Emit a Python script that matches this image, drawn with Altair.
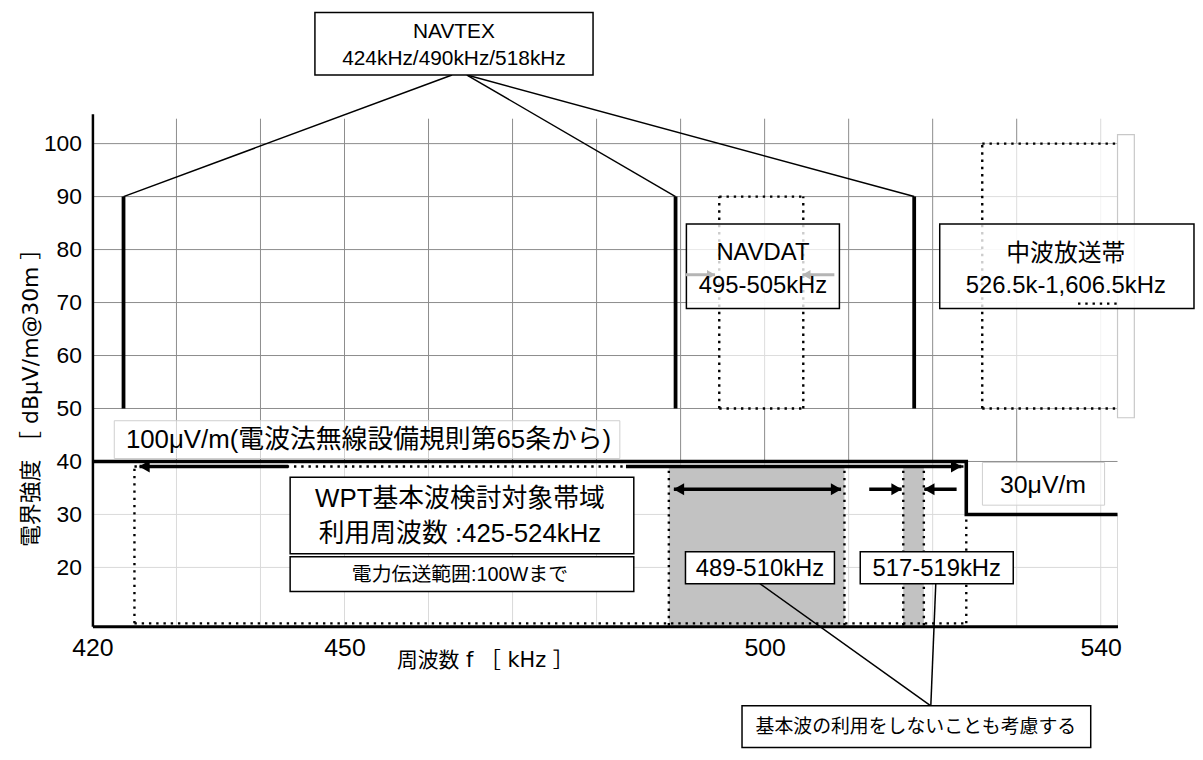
import altair as alt
import pandas as pd

# ---------------- values (kHz / dBuV/m) ----------------
navtex_freq = [423.7, 489.4, 517.8]
navtex_level = [50, 90]
limit_freq = [420, 524, 524, 542]
limit_level = [40, 40, 30, 30]
navdat_band = [494.6, 504.6]
navdat_level = [50, 90]
mw_band = [525.9, 542]
mw_level = [50, 100]
wpt_band = [425, 524]
wpt_level = [9.44, 39.06]
excl_lo = [488.6, 516.5]
excl_hi = [509.5, 518.95]
excl_level = [9.06, 39.06]
x_ticks = [420, 450, 500, 540]
y_ticks = [20, 30, 40, 50, 60, 70, 80, 90, 100]
grid_x = [430, 440, 450, 460, 470, 480, 490, 500, 510, 520, 530]
grid_y_up = [40, 50, 60, 70, 80, 90, 100]
grid_y_low = [20, 30]

label_navtex = ["NAVTEX", "424kHz/490kHz/518kHz"]
label_navdat = ["NAVDAT", "495-505kHz"]
label_mw = ["中波放送帯", "526.5k-1,606.5kHz"]
label_limit100 = "100μV/m(電波法無線設備規則第65条から)"
label_limit30 = "30μV/m"
label_wpt = ["WPT基本波検討対象帯域", "利用周波数  :425-524kHz"]
label_power = "電力伝送範囲:100Wまで"
label_excl = ["489-510kHz", "517-519kHz"]
label_note = "基本波の利用をしないことも考慮する"
x_title = "周波数 f ［ kHz ］"
y_title = "電界強度 ［ dBμV/m@30m ］"

# ---------------- layout ----------------
X_DOM = [420, 542]
Y_DOM = [8.875, 105.625]
TOP = 104.7
FONT = "Liberation Sans, Noto Sans CJK JP, sans-serif"
TFONT = "DejaVu Sans, Noto Sans CJK JP, sans-serif"

xs = alt.Scale(domain=X_DOM, nice=False, zero=False)
ys = alt.Scale(domain=Y_DOM, nice=False, zero=False)

x_axis = alt.Axis(
    values=x_ticks, format="d", grid=False, ticks=False, domainColor="black",
    domainWidth=3, labelFont="Liberation Sans Narrow, Liberation Sans, sans-serif",
    labelFontSize=25, labelColor="black", labelPadding=9, labelFlush=False,
    labelOverlap=False, title=x_title, titleFont=TFONT, titleFontSize=21,
    titleFontWeight="normal", titleColor="black", titleX=395, titleY=34,
    titleAlign="center", titleBaseline="middle", zindex=3)
y_axis = alt.Axis(
    values=y_ticks, grid=False, ticks=False, domainColor="black",
    domainWidth=2.5, labelFont="Liberation Sans, sans-serif", labelFontSize=23,
    labelColor="black", labelPadding=11, labelOverlap=False, title=y_title,
    titleFont=TFONT, titleFontSize=22, titleFontWeight="normal",
    titleColor="black", titleX=-62, titleY=280, titleAngle=270,
    titleAlign="center", titleBaseline="middle", zindex=3)


def X(f="x"):
    return alt.X(f"{f}:Q", scale=xs, axis=x_axis, title=x_title)


def Y(f="y"):
    return alt.Y(f"{f}:Q", scale=ys, axis=y_axis, title=y_title)


def segs(rows):
    return pd.DataFrame(rows, columns=["x", "y", "x2", "y2"])


def rule_layer(rows, **kw):
    return alt.Chart(segs(rows)).mark_rule(**kw).encode(
        x=X(), y=Y(), x2="x2:Q", y2="y2:Q")


def box_layer(rows, **kw):
    df = pd.DataFrame(rows, columns=["x", "x2", "y", "y2"])
    return alt.Chart(df).mark_rect(**kw).encode(
        x=X(), x2="x2:Q", y=Y(), y2="y2:Q")


def text_layer(rows, size, font=FONT):
    df = pd.DataFrame(rows, columns=["x", "y", "text"])
    return alt.Chart(df).mark_text(
        fontSize=size, font=font, color="black", align="center",
        baseline="middle").encode(x=X(), y=Y(), text="text:N")


def head_layer(rows, shape, color, size, off):
    df = pd.DataFrame(rows, columns=["x", "y"])
    return alt.Chart(df).mark_point(
        shape=shape, filled=True, size=size, color=color, opacity=1,
        xOffset=off, strokeWidth=0).encode(x=X(), y=Y())


# gridlines
light_rows = ([(g, Y_DOM[0], g, 40) for g in grid_x]
              + [(540, Y_DOM[0], 540, TOP), (542, Y_DOM[0], 542, 30)]
              + [(X_DOM[0], v, X_DOM[1], v) for v in grid_y_low])
dark_rows = ([(g, 40, g, TOP) for g in grid_x]
             + [(X_DOM[0], v, X_DOM[1], v) for v in grid_y_up])

base = rule_layer(light_rows, color="#dadada", strokeWidth=1)
grid_dark = rule_layer(dark_rows, color="#8c8c8c", strokeWidth=1)

# translucent band fills
overlay = box_layer([(navdat_band[0], navdat_band[1], navdat_level[0], navdat_level[1]),
                     (mw_band[0], mw_band[1], mw_level[0], mw_level[1])],
                    fill="white", opacity=0.7)
shaded = box_layer([(lo, hi, excl_level[0], excl_level[1]) for lo, hi in zip(excl_lo, excl_hi)],
                   fill="#c2c2c2")

# dotted outlines
n0, n1 = navdat_band
a0, a1 = navdat_level
m0, m1 = mw_band
b0, b1 = mw_level
w0, w1 = wpt_band
c0, c1 = wpt_level
dot_rows = [(n0, a0, n1, a0), (n0, a1, n1, a1), (n0, a0, n0, a1), (n1, a0, n1, a1),
            (m0, b1, m1, b1), (m0, b0, m1, b0), (m0, b0, m0, b1),
            (w0, c0, w1, c0), (w0, c1, w1, c1), (w0, c0, w0, c1), (w1, c0, w1, c1)]
for lo, hi in zip(excl_lo, excl_hi):
    dot_rows += [(lo, excl_level[0], lo, excl_level[1]), (hi, excl_level[0], hi, excl_level[1])]
dotted = rule_layer(dot_rows, color="black", strokeWidth=2.4, strokeDash=[2.4, 4.9])

edge_box = box_layer([(542, 544, 48.25, 101.7)], filled=False, stroke="#c8c8c8",
                     strokeWidth=1.2)

# regulation limit line
limit_df = pd.DataFrame({"x": limit_freq, "y": limit_level, "o": list(range(len(limit_freq)))})
limit = alt.Chart(limit_df).mark_line(color="black", strokeWidth=3.6).encode(
    x=X(), y=Y(), order="o:Q")

navtex = rule_layer([(f, navtex_level[0], f, navtex_level[1]) for f in navtex_freq],
                    color="black", strokeWidth=3.8)

arrows = rule_layer([(425.6, 39.06, 443.3, 39.06), (483.5, 39.06, 523.4, 39.06),
                     (489.2, 34.75, 509.1, 34.75), (512.45, 34.75, 516.3, 34.75),
                     (522.85, 34.75, 519.0, 34.75)],
                    color="black", strokeWidth=3.6)
heads_l = head_layer([(425.6, 39.06), (489.2, 34.75), (519.0, 34.75)],
                     "triangle-left", "black", 150, 5)
heads_r = head_layer([(523.4, 39.06), (509.1, 34.75), (516.3, 34.75)],
                     "triangle-right", "black", 150, -5)

gray_arrows = rule_layer([(490.6, 75.25, 494.1, 75.25), (508.3, 75.25, 504.5, 75.25)],
                         color="#b5b5b5", strokeWidth=3)
gheads_r = head_layer([(494.1, 75.25)], "triangle-right", "#b5b5b5", 90, -4)
gheads_l = head_layer([(504.5, 75.25)], "triangle-left", "#b5b5b5", 90, 4)

leaders = rule_layer([(462.8, 112.94, navtex_freq[0], navtex_level[1]),
                      (464.57, 112.94, navtex_freq[1], navtex_level[1]),
                      (464.57, 112.94, navtex_freq[2], navtex_level[1]),
                      (499.44, 16.94, 519.78, -6.13),
                      (520.37, 16.94, 519.78, -6.13)],
                     color="black", strokeWidth=1.5)

boxes_solid = box_layer([(446.48, 479.58, 112.94, 124.75),
                         (443.53, 484.43, 22.56, 37.0),
                         (443.53, 484.43, 15.44, 22.0),
                         (490.58, 508.31, 16.94, 22.94),
                         (511.38, 529.59, 16.94, 22.94),
                         (497.31, 538.81, -14.0, -6.13)],
                        fill="white", stroke="black", strokeWidth=1.5)
boxes_trans = box_layer([(490.69, 508.9, 68.88, 84.81),
                         (520.84, 551.1, 68.88, 84.81)],
                        fill="white", fillOpacity=0.8, stroke="black", strokeWidth=1.5)
boxes_light = box_layer([(422.6, 482.77, 40.56, 47.69),
                         (525.92, 540.46, 31.75, 39.81)],
                        fill="white", fillOpacity=0.6, stroke="#cfcfcf", strokeWidth=1)

texts = [
    text_layer([(463.03, 121.0, label_navtex[0]), (463.03, 115.94, label_navtex[1])], 21),
    text_layer([(499.8, 79.38, label_navdat[0]), (499.8, 73.19, label_navdat[1])], 24),
    text_layer([(535.85, 79.19, label_mw[0]), (535.85, 73.19, label_mw[1])], 24),
    text_layer([(452.86, 44.13, label_limit100)], 26),
    text_layer([(533.13, 35.5, label_limit30)], 25),
    text_layer([(463.74, 32.87, label_wpt[0]), (463.74, 26.31, label_wpt[1])], 26),
    text_layer([(463.74, 18.62, label_power)], 20),
    text_layer([(499.44, 19.75, label_excl[0]), (520.48, 19.75, label_excl[1])], 24),
    text_layer([(518.0, -10.07, label_note)], 19),
]

dots_top = rule_layer([(537.3, 69.8, 542, 69.8)], color="black", strokeWidth=2.4,
                      strokeDash=[2.4, 4.9])

chart = alt.layer(
    base, grid_dark, overlay, shaded, dotted, edge_box, limit, navtex,
    arrows, heads_l, heads_r, leaders,
    boxes_solid, boxes_trans, boxes_light, gray_arrows, gheads_r, gheads_l,
    *texts, dots_top
).properties(
    width=1032, height=516,
    autosize=alt.AutoSizeParams(type="none"),
    padding={"left": 85, "top": 104, "right": 78, "bottom": 130},
    background="white",
).configure_view(stroke=None)

chart.save("out.html", embed_options={"renderer": "svg", "actions": False})
